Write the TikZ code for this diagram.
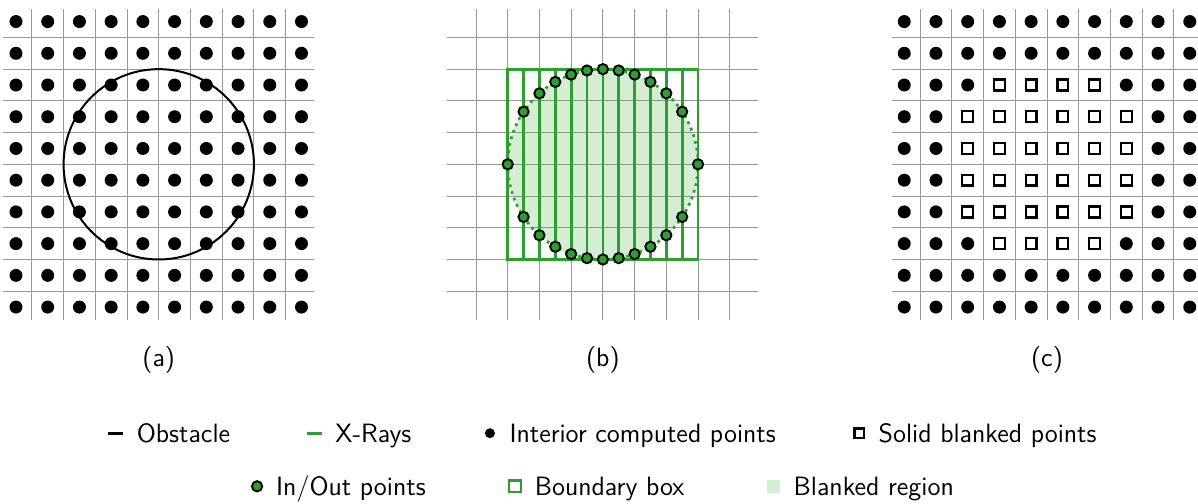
\documentclass[tikz,border=0pt]{standalone}
\usepackage{tikz}
\usetikzlibrary{positioning}
\usepackage{xcolor}
\definecolor{raygreen}{RGB}{44,160,44}
\newcommand{\legfont}{\fontsize{12.6}{15}\selectfont\sffamily}

\tikzset{
  gridline/.style={gray!80, line width=0.45pt},
  obstacle/.style={black, line width=0.95pt},
  xray/.style={raygreen, line width=1.3pt},
  interior/.style={circle, fill=black, inner sep=0pt, minimum size=0.217cm},
  inout/.style={circle, draw=black, fill=raygreen, line width=0.9pt, inner sep=0pt, minimum size=0.172cm},
  solidpt/.style={rectangle, draw=black, line width=1.1pt, inner sep=0pt, minimum size=0.182cm},
  panellabel/.style={font=\legfont, inner sep=0pt},
  legtext/.style={font=\legfont, inner sep=0pt, text height=10pt, text depth=1.4pt},
  legdash/.style={inner sep=0pt, minimum width=0.25cm, minimum height=1.3pt},
}

\begin{document}
\begin{tikzpicture}[x=0.53cm, y=0.53cm]
    \useasboundingbox (-0.504,-6.18) rectangle (37.26,9.68);

    % (a) obstacle over the grid
    \foreach \k in {0.5,1.5,...,8.5} {
        \draw[gridline] (\k,-0.4) -- (\k,9.4);
        \draw[gridline] (-0.4,\k) -- (9.4,\k);
    }
    \foreach \i in {0,...,9} \foreach \j in {0,...,9} \node[interior] (a-\i-\j) at (\i,\j) {};
    \draw[obstacle] (4.5,4.5) circle (3);
    \node[panellabel] (laba) at (4.5,-1.67) {(a)};

    % (b) x-rays through the boundary box
    \begin{scope}[shift={(14,0)}]
        \foreach \k in {0.5,1.5,...,8.5} {
            \draw[gridline] (\k,-0.4) -- (\k,9.4);
            \draw[gridline] (-0.4,\k) -- (9.4,\k);
        }
        \fill[raygreen, fill opacity=0.2] (4.5,4.5) circle (3);
        \draw[xray, dotted] (4.5,4.5) circle (3);
        \foreach \x in {2,2.5,...,7} \draw[xray] (\x,1.5) -- (\x,7.5);
        \draw[xray] (1.5,1.5) rectangle (7.5,7.5);
        \foreach \x [count=\k] in {2,2.5,...,7} {
            \pgfmathsetmacro\h{sqrt(9-(\x-4.5)^2)}
            \node[inout] (iot\k) at (\x,4.5+\h) {};
            \node[inout] (iob\k) at (\x,4.5-\h) {};
        }
        \node[inout] (iol) at (1.5,4.5) {};
        \node[inout] (ior) at (7.5,4.5) {};
        \node[panellabel] (labb) at (4.5,-1.67) {(b)};
    \end{scope}

    % (c) blanked points
    \begin{scope}[shift={(28,0)}]
        \foreach \k in {0.5,1.5,...,8.5} {
            \draw[gridline] (\k,-0.4) -- (\k,9.4);
            \draw[gridline] (-0.4,\k) -- (9.4,\k);
        }
        \foreach \i in {0,...,9} \foreach \j in {0,...,9} {
            \pgfmathsetmacro\dd{(\i-4.5)^2+(\j-4.5)^2}
            \ifdim\dd pt<9pt
                \node[solidpt] (c-\i-\j) at (\i,\j) {};
            \else
                \node[interior] (c-\i-\j) at (\i,\j) {};
            \fi
        }
        \node[panellabel] (labc) at (4.5,-1.67) {(c)};
    \end{scope}

    % Legend
    \node[legdash, fill=black] (legobs) at (3.13,-3.976) {};
    \node[legtext, right=2.2mm of legobs] (legobstxt) {Obstacle};
    \node[legdash, fill=raygreen] (legray) at (9.41,-3.976) {};
    \node[legtext, right=2.1mm of legray] (legraytxt) {X-Rays};
    \node[interior, minimum size=0.167cm] (legint) at (14.94,-3.976) {};
    \node[legtext, right=2.3mm of legint] (leginttxt) {Interior computed points};
    \node[solidpt, minimum size=0.16cm] (legsol) at (26.58,-3.976) {};
    \node[legtext, right=2.2mm of legsol] (legsoltxt) {Solid blanked points};

    \node[inout] (legio) at (7.60,-5.65) {};
    \node[legtext, right=2.1mm of legio] (legiotxt) {In/Out points};
    \node[solidpt, draw=raygreen, minimum size=0.19cm] (legbox) at (15.73,-5.65) {};
    \node[legtext, right=2.1mm of legbox] (legboxtxt) {Boundary box};
    \node[inner sep=0pt, minimum size=0.217cm, fill=raygreen!20] (legblk) at (23.87,-5.65) {};
    \node[legtext, right=2.2mm of legblk] (legblktxt) {Blanked region};
\end{tikzpicture}
\end{document}
